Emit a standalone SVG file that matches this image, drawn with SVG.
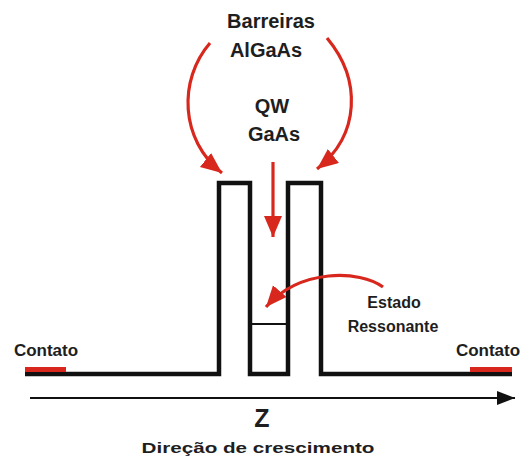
<svg xmlns="http://www.w3.org/2000/svg" width="525" height="459" viewBox="0 0 525 459">
<style>
.lbl{font-family:"Liberation Sans",Arial,sans-serif;font-weight:bold;fill:#1e1e1e;text-anchor:middle}
.red{fill:none;stroke:#d8281e;stroke-width:3.2}
.profile{fill:none;stroke:#111;stroke-width:4.5;stroke-linejoin:miter}
</style>
<defs>
<marker id="ra" markerUnits="userSpaceOnUse" markerWidth="24" markerHeight="20" refX="21" refY="9" orient="auto">
<path d="M0,0 L21,9 L0,18 z" fill="#d8281e"/>
</marker>
<marker id="ka" markerUnits="userSpaceOnUse" markerWidth="20" markerHeight="14" refX="18" refY="7" orient="auto">
<path d="M0,0 L18,7 L0,14 z" fill="#111"/>
</marker>
</defs>
<rect width="525" height="459" fill="#fff"/>
<g id="profile">
<path class="profile" d="M25,374 H219 V183 H250 V374 H288 V183 H321 V374 H512"/>
<line x1="250" y1="324" x2="288" y2="324" stroke="#111" stroke-width="1.8"/>
</g>
<g id="contato-left">
<rect x="25" y="367" width="41" height="5" fill="#d8281e"/>
<text class="lbl" x="46" y="356" font-size="17">Contato</text>
</g>
<g id="contato-right">
<rect x="470" y="367" width="42" height="5" fill="#d8281e"/>
<text class="lbl" x="488" y="356" font-size="17">Contato</text>
</g>
<g id="barreiras">
<text class="lbl" x="271" y="28" font-size="20">Barreiras</text>
<text class="lbl" x="266" y="57" font-size="20">AlGaAs</text>
</g>
<g id="qw">
<text class="lbl" x="272" y="113" font-size="20">QW</text>
<text class="lbl" x="274" y="141" font-size="20">GaAs</text>
</g>
<g id="estado">
<text class="lbl" x="394" y="308" font-size="16">Estado</text>
<text class="lbl" x="393" y="332" font-size="16">Ressonante</text>
</g>
<g id="axis-label">
<text class="lbl" x="262" y="427" font-size="25" font-weight="normal">Z</text>
<text class="lbl" x="258" y="453" font-size="15" textLength="233" lengthAdjust="spacingAndGlyphs">Direção de crescimento</text>
</g>
<g id="connectors">
<path class="red" d="M210,43 C178,80 180,140 222,173" marker-end="url(#ra)"/>
<path class="red" d="M327,38 C362,80 360,135 317,169" marker-end="url(#ra)"/>
<path class="red" d="M273,162 V237" marker-end="url(#ra)"/>
<path class="red" d="M383,287 C360,270 300,268 266,307" marker-end="url(#ra)"/>
<line x1="30" y1="398" x2="515" y2="398" stroke="#111" stroke-width="2" marker-end="url(#ka)"/>
</g>
</svg>
